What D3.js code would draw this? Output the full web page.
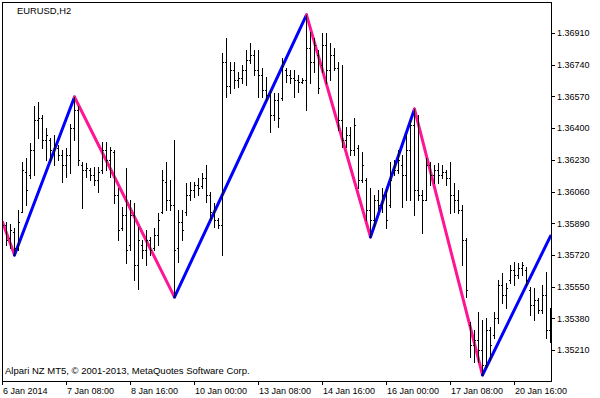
<!DOCTYPE html>
<html>
<head>
<meta charset="utf-8">
<script src="https://cdn.jsdelivr.net/npm/d3@7"></script>
<style>
body { margin: 0; background: #fff; }
svg { display: block; }
svg text { font-family: "Liberation Sans", Arial, sans-serif; font-size: 9px; fill: #000; }
</style>
</head>
<body>
<div class="chart"></div>
<script>
var symbol = "EURUSD,H2";
var copyright = "Alpari NZ MT5, \u00a9 2001-2013, MetaQuotes Software Corp.";

// H2 bars starting 6 Jan 2014 00:00
var openPrices = [
  1.35950, 1.35880, 1.35811, 1.35843, 1.35757, 1.35950, 1.36165, 1.36149, 1.36283, 1.36443,
  1.36454, 1.36336, 1.36336, 1.36283, 1.36293, 1.36256, 1.36202, 1.36256, 1.36401, 1.36497,
  1.36202, 1.36175, 1.36175, 1.36149, 1.36122, 1.36175, 1.36283, 1.36229, 1.36272, 1.36041,
  1.35864, 1.35934, 1.35773, 1.35934, 1.35666, 1.35773, 1.35746, 1.35800, 1.35757, 1.35827,
  1.35950, 1.36111, 1.36014, 1.35988, 1.35757, 1.35896, 1.35950, 1.36041, 1.36068, 1.36095,
  1.36090, 1.36132, 1.36041, 1.35950, 1.35907, 1.35880, 1.36755, 1.36626, 1.36712, 1.36658,
  1.36669, 1.36712, 1.36765, 1.36792, 1.36712, 1.36685, 1.36604, 1.36578, 1.36470, 1.36551,
  1.36561, 1.36712, 1.36685, 1.36669, 1.36658, 1.36647, 1.36658, 1.36830, 1.36755, 1.36792,
  1.36738, 1.36846, 1.36712, 1.36792, 1.36722, 1.36443, 1.36336, 1.36363, 1.36283, 1.36293,
  1.36122, 1.36122, 1.35961, 1.35907, 1.36014, 1.35988, 1.36041, 1.35988, 1.36165, 1.36175,
  1.36202, 1.36149, 1.36283, 1.36417, 1.36068, 1.36041, 1.36014, 1.36202, 1.36149, 1.36175,
  1.36149, 1.36165, 1.36132, 1.36041, 1.36014, 1.35961, 1.35800, 1.35344, 1.35237, 1.35264,
  1.35210, 1.35129, 1.35317, 1.35290, 1.35382, 1.35559, 1.35505, 1.35585, 1.35639, 1.35612,
  1.35650, 1.35639, 1.35532, 1.35451, 1.35478, 1.35425, 1.35505, 1.35317
];

var highPrices = [
  1.35988, 1.35896, 1.35886, 1.35864, 1.35961, 1.36218, 1.36240, 1.36320, 1.36519, 1.36540,
  1.36470, 1.36401, 1.36347, 1.36363, 1.36309, 1.36283, 1.36293, 1.36422, 1.36567, 1.36519,
  1.36218, 1.36213, 1.36186, 1.36191, 1.36191, 1.36326, 1.36326, 1.36299, 1.36283, 1.36079,
  1.35977, 1.36186, 1.36014, 1.35998, 1.35870, 1.35800, 1.35854, 1.35816, 1.35864, 1.35945,
  1.36175, 1.36218, 1.36122, 1.36336, 1.35961, 1.35961, 1.36106, 1.36111, 1.36111, 1.36132,
  1.36159, 1.36202, 1.36057, 1.35998, 1.35918, 1.36803, 1.36883, 1.36755, 1.36755, 1.36701,
  1.36738, 1.36819, 1.36856, 1.36819, 1.36819, 1.36722, 1.36674, 1.36604, 1.36588, 1.36588,
  1.36776, 1.36722, 1.36712, 1.36712, 1.36685, 1.36669, 1.37007, 1.36915, 1.36883, 1.36819,
  1.36910, 1.36910, 1.36856, 1.36830, 1.36755, 1.36738, 1.36406, 1.36406, 1.36454, 1.36309,
  1.36272, 1.36132, 1.36079, 1.36041, 1.36068, 1.36079, 1.36068, 1.36218, 1.36229, 1.36283,
  1.36256, 1.36363, 1.36443, 1.36502, 1.36470, 1.36068, 1.36240, 1.36218, 1.36202, 1.36213,
  1.36202, 1.36175, 1.36218, 1.36106, 1.36068, 1.35988, 1.35811, 1.35360, 1.35317, 1.35414,
  1.35371, 1.35382, 1.35333, 1.35414, 1.35585, 1.35623, 1.35569, 1.35666, 1.35682, 1.35676,
  1.35682, 1.35655, 1.35548, 1.35542, 1.35489, 1.35559, 1.35628, 1.35435
];

var lowPrices = [
  1.35800, 1.35773, 1.35757, 1.35719, 1.35746, 1.35950, 1.35988, 1.36132, 1.36149, 1.36347,
  1.36293, 1.36229, 1.36218, 1.36202, 1.36229, 1.36111, 1.36138, 1.36159, 1.36336, 1.36202,
  1.35972, 1.36138, 1.36122, 1.36095, 1.36057, 1.36159, 1.36175, 1.36138, 1.35998, 1.35800,
  1.35854, 1.35676, 1.35746, 1.35585, 1.35537, 1.35703, 1.35666, 1.35719, 1.35746, 1.35773,
  1.35945, 1.35961, 1.35961, 1.35494, 1.35682, 1.35800, 1.35934, 1.36014, 1.36031, 1.36041,
  1.36079, 1.36004, 1.35907, 1.35870, 1.35864, 1.35719, 1.36567, 1.36588, 1.36615, 1.36620,
  1.36642, 1.36631, 1.36749, 1.36685, 1.36567, 1.36567, 1.36551, 1.36379, 1.36443, 1.36406,
  1.36551, 1.36647, 1.36642, 1.36567, 1.36594, 1.36642, 1.36497, 1.36642, 1.36701, 1.36588,
  1.36701, 1.36642, 1.36658, 1.36712, 1.36390, 1.36299, 1.36299, 1.36256, 1.36256, 1.36079,
  1.36111, 1.35907, 1.35816, 1.35870, 1.35961, 1.35950, 1.35864, 1.35977, 1.36149, 1.36159,
  1.35977, 1.36014, 1.36014, 1.35934, 1.36014, 1.35837, 1.36014, 1.36095, 1.36106, 1.36106,
  1.36132, 1.36095, 1.35945, 1.35950, 1.35945, 1.35666, 1.35494, 1.35172, 1.35146, 1.35146,
  1.35076, 1.35119, 1.35156, 1.35274, 1.35355, 1.35462, 1.35435, 1.35569, 1.35559, 1.35596,
  1.35612, 1.35559, 1.35398, 1.35371, 1.35408, 1.35408, 1.35274, 1.35253
];

var closePrices = [
  1.35880, 1.35800, 1.35854, 1.35757, 1.35896, 1.36175, 1.36068, 1.36283, 1.36443, 1.36454,
  1.36336, 1.36363, 1.36283, 1.36309, 1.36256, 1.36202, 1.36256, 1.36401, 1.36497, 1.36229,
  1.36175, 1.36186, 1.36149, 1.36122, 1.36165, 1.36283, 1.36229, 1.36283, 1.36041, 1.35854,
  1.35934, 1.35746, 1.35934, 1.35666, 1.35800, 1.35746, 1.35800, 1.35746, 1.35827, 1.35907,
  1.36122, 1.36014, 1.35988, 1.35746, 1.35896, 1.35854, 1.36041, 1.36068, 1.36095, 1.36079,
  1.36132, 1.36041, 1.35950, 1.35907, 1.35880, 1.36755, 1.36626, 1.36712, 1.36658, 1.36669,
  1.36712, 1.36765, 1.36792, 1.36712, 1.36685, 1.36604, 1.36578, 1.36470, 1.36551, 1.36454,
  1.36755, 1.36685, 1.36669, 1.36658, 1.36647, 1.36658, 1.36830, 1.36755, 1.36846, 1.36615,
  1.36846, 1.36712, 1.36792, 1.36722, 1.36443, 1.36336, 1.36363, 1.36283, 1.36417, 1.36122,
  1.36202, 1.35961, 1.35907, 1.36014, 1.35988, 1.36041, 1.35907, 1.36122, 1.36175, 1.36229,
  1.36149, 1.36283, 1.36417, 1.36068, 1.36041, 1.36014, 1.36202, 1.36149, 1.36175, 1.36149,
  1.36165, 1.36132, 1.36041, 1.36014, 1.35961, 1.35800, 1.35532, 1.35237, 1.35264, 1.35210,
  1.35129, 1.35317, 1.35237, 1.35382, 1.35559, 1.35505, 1.35542, 1.35639, 1.35612, 1.35650,
  1.35666, 1.35585, 1.35451, 1.35478, 1.35425, 1.35505, 1.35317, 1.35398
];

// zigzag turning points: bar index and price
var zigzagBars = [0, 3, 18, 43, 76, 92, 103, 120, 137];
var zigzagPrices = [1.35896, 1.35719, 1.36567, 1.35494, 1.37007, 1.35816, 1.36502, 1.35076, 1.35821];

var priceTicks = [1.36910, 1.36740, 1.36570, 1.36400, 1.36230, 1.36060, 1.35890, 1.35720, 1.35550, 1.35380, 1.35210];
var timeTickBars = [0, 16, 32, 48, 64, 80, 96, 112, 128];
var timeTickLabels = ["6 Jan 2014", "7 Jan 08:00", "8 Jan 16:00", "10 Jan 00:00", "13 Jan 08:00",
                      "14 Jan 16:00", "16 Jan 00:00", "17 Jan 08:00", "20 Jan 16:00"];

var width = 600
var height = 398
var plotLeft = 2
var plotTop = 2
var plotRight = 551
var plotBottom = 381
var priceMin = 1.350438
var priceMax = 1.370762

var svg = d3.select(".chart").append("svg")
            .attr("width", width)
            .attr("height", height);

svg.append("rect")
   .attr("width", width)
   .attr("height", height)
   .attr("fill", "#fff");

var x = d3.scaleLinear()
          .domain([0, openPrices.length - 1])
          .range([plotLeft + 0.5, plotLeft + 0.5 + 4 * (openPrices.length - 1)]);

var xTick = d3.scaleLinear()
              .domain(x.domain())
              .range(x.range().map(function(v) { return v - 0.5; }));

var y = d3.scaleLinear()
          .domain([priceMin, priceMax])
          .range([plotBottom, plotTop]);

svg.append("clipPath")
   .attr("id", "plot-clip")
   .append("rect")
   .attr("x", plotLeft)
   .attr("y", plotTop)
   .attr("width", plotRight - plotLeft)
   .attr("height", plotBottom - plotTop);

var plot = svg.append("g").attr("clip-path", "url(#plot-clip)");

// zigzag segments, blue going up, pink going down
var segments = [];
for (var k = 1; k < zigzagBars.length; k++) {
  segments.push({
    b0: zigzagBars[k - 1], p0: zigzagPrices[k - 1],
    b1: zigzagBars[k], p1: zigzagPrices[k]
  });
}

plot.selectAll("line.zz")
    .data(segments)
    .enter()
    .append("line")
    .attr("class", "zz")
    .attr("x1", function(d) { return x(d.b0); })
    .attr("y1", function(d) { return y(d.p0); })
    .attr("x2", function(d) { return x(d.b1); })
    .attr("y2", function(d) { return y(d.p1); })
    .attr("stroke", function(d) { return d.p1 > d.p0 ? "#0000ff" : "#ff1493"; })
    .attr("stroke-width", 3)
    .attr("stroke-linecap", "round");

var bars = openPrices.map(function(o, i) {
  return { i: i, o: o, h: highPrices[i], l: lowPrices[i], c: closePrices[i] };
});

var barG = plot.append("g")
               .attr("shape-rendering", "crispEdges")
               .attr("fill", "#000");

var barSel = barG.selectAll("g")
                 .data(bars)
                 .enter()
                 .append("g");

barSel.append("rect")
      .attr("x", function(d) { return x(d.i) - 0.5; })
      .attr("y", function(d) { return Math.round(y(d.h)); })
      .attr("width", 1)
      .attr("height", function(d) { return Math.round(y(d.l)) - Math.round(y(d.h)) + 1; });

barSel.append("rect")
      .attr("x", function(d) { return x(d.i) - 1.5; })
      .attr("y", function(d) { return Math.round(y(d.o)); })
      .attr("width", 1)
      .attr("height", 1);

barSel.append("rect")
      .attr("x", function(d) { return x(d.i) + 0.5; })
      .attr("y", function(d) { return Math.round(y(d.c)); })
      .attr("width", 1)
      .attr("height", 1);

// frame
svg.append("rect")
   .attr("x", plotLeft + 0.5)
   .attr("y", plotTop + 0.5)
   .attr("width", plotRight - plotLeft)
   .attr("height", plotBottom - plotTop)
   .attr("fill", "none")
   .attr("stroke", "#000")
   .attr("shape-rendering", "crispEdges");

// price axis
var yAxis = svg.append("g")
               .attr("transform", "translate(" + plotRight + ",0)")
               .call(d3.axisRight(y)
                       .tickValues(priceTicks)
                       .tickSize(4)
                       .tickPadding(2)
                       .tickFormat(d3.format(".5f")));
yAxis.select(".domain").remove();
yAxis.selectAll("line").attr("stroke", "#000").attr("shape-rendering", "crispEdges");
yAxis.selectAll("text")
     .attr("font-family", "Liberation Sans, Arial, sans-serif")
     .attr("font-size", 9.3)
     .attr("fill", "#000");

// time axis
var xAxis = svg.append("g")
               .attr("transform", "translate(0," + plotBottom + ")")
               .call(d3.axisBottom(xTick)
                       .tickValues(timeTickBars)
                       .tickSize(4)
                       .tickFormat(function(d, i) { return timeTickLabels[i]; }));
xAxis.select(".domain").remove();
xAxis.selectAll("line").attr("stroke", "#000").attr("shape-rendering", "crispEdges");
xAxis.selectAll("text")
     .attr("text-anchor", "start")
     .attr("dx", 0.5)
     .attr("y", 12.5)
     .attr("dy", 0)
     .attr("font-family", "Liberation Sans, Arial, sans-serif")
     .attr("font-size", 9)
     .attr("fill", "#000");

svg.append("text")
   .attr("x", 17)
   .attr("y", 13.5)
   .style("font-size", "9.4px")
   .text(symbol);

svg.append("text")
   .attr("x", 5)
   .attr("y", 373.5)
   .style("font-size", "9.5px")
   .text(copyright);
</script>
</body>
</html>
